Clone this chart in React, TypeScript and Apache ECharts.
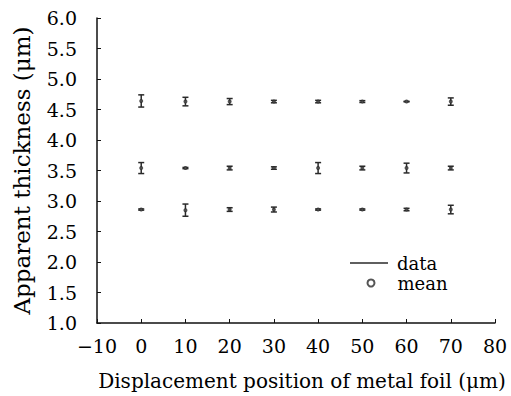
import React, { useEffect, useRef } from "react";
import * as echarts from "echarts";

const positions = [0, 10, 20, 30, 40, 50, 60, 70];
const upperMean = [4.64, 4.63, 4.63, 4.63, 4.63, 4.63, 4.63, 4.63];
const upperErr = [0.1, 0.07, 0.05, 0.02, 0.02, 0.015, 0.005, 0.06];
const middleMean = [3.54, 3.54, 3.54, 3.54, 3.54, 3.54, 3.54, 3.54];
const middleErr = [0.09, 0.01, 0.03, 0.02, 0.09, 0.03, 0.08, 0.03];
const lowerMean = [2.86, 2.85, 2.86, 2.86, 2.86, 2.86, 2.86, 2.86];
const lowerErr = [0.01, 0.1, 0.03, 0.04, 0.01, 0.01, 0.02, 0.07];

const FONT = "DejaVu Serif";
const INK = "#2a2a2a";
const TEXT = "#000";

export default function App() {
  const ref = useRef<HTMLDivElement>(null);
  useEffect(() => {
    if (!ref.current) return;
    const chart = echarts.init(ref.current, undefined, { renderer: "svg" });
    const rows = [
      [upperMean, upperErr],
      [middleMean, middleErr],
      [lowerMean, lowerErr],
    ];
    const barData: number[][] = [];
    const meanData: number[][] = [];
    rows.forEach(([m, e]) => {
      positions.forEach((x, i) => {
        barData.push([x, m[i], e[i]]);
        meanData.push([x, m[i]]);
      });
    });
    const fmtNeg = (v: number) => (v < 0 ? "\u2212" + Math.abs(v) : String(v));
    chart.setOption({
      animation: false,
      grid: { left: 97, right: 16, top: 18, bottom: 71 },
      legend: [
        {
          data: [{ name: "data", icon: "rect" }],
          left: 350,
          top: 254,
          padding: 0,
          itemWidth: 38,
          itemHeight: 1.5,
          textStyle: { fontFamily: FONT, fontSize: 18, color: TEXT, padding: [0, 0, 0, 4] },
          selectedMode: false,
        },
        {
          data: [{ name: "mean", icon: "emptyCircle" }],
          left: 366.5,
          top: 274,
          padding: 0,
          itemWidth: 7,
          itemHeight: 7,
          textStyle: { fontFamily: FONT, fontSize: 18, color: TEXT, padding: [0, 0, 0, 18] },
          selectedMode: false,
        },
      ],
      xAxis: {
        type: "value",
        min: -10,
        max: 80,
        interval: 10,
        name: "Displacement position of metal foil (\u03bcm)",
        nameLocation: "middle",
        nameGap: 48,
        nameTextStyle: { fontFamily: FONT, fontSize: 20, color: TEXT, padding: [0, 0, 0, 12] },
        axisLine: { onZero: false, lineStyle: { color: "#111", width: 1.5 } },
        axisTick: { inside: true, length: 4, lineStyle: { color: "#111" } },
        axisLabel: {
          fontFamily: FONT,
          fontSize: 19,
          color: TEXT,
          margin: 13,
          formatter: fmtNeg,
        },
        splitLine: { show: false },
      },
      yAxis: {
        type: "value",
        min: 1,
        max: 6,
        interval: 0.5,
        name: "Apparent thickness (\u03bcm)",
        nameLocation: "middle",
        nameGap: 64,
        nameTextStyle: { fontFamily: FONT, fontSize: 23, color: TEXT },
        axisLine: { show: true, onZero: false, lineStyle: { color: "#111", width: 1.5 } },
        axisTick: { inside: true, length: 4, lineStyle: { color: "#111" } },
        axisLabel: {
          fontFamily: FONT,
          fontSize: 19,
          color: TEXT,
          margin: 20,
          formatter: (v: number) => v.toFixed(1),
        },
        splitLine: { show: false },
      },
      series: [
        {
          name: "data",
          type: "custom",
          color: INK,
          encode: { x: 0, y: 1 },
          data: barData,
          renderItem: (params: any, api: any) => {
            const x = api.value(0);
            const y = api.value(1);
            const e = api.value(2);
            const top = api.coord([x, y + e]);
            const bot = api.coord([x, y - e]);
            const hw = 3;
            const style = { stroke: INK, lineWidth: 1.5 };
            return {
              type: "group",
              children: [
                { type: "line", shape: { x1: top[0], y1: top[1], x2: bot[0], y2: bot[1] }, style },
                { type: "line", shape: { x1: top[0] - hw, y1: top[1], x2: top[0] + hw, y2: top[1] }, style },
                { type: "line", shape: { x1: bot[0] - hw, y1: bot[1], x2: bot[0] + hw, y2: bot[1] }, style },
              ],
            };
          },
        },
        {
          name: "mean",
          type: "scatter",
          symbol: "emptyCircle",
          symbolSize: 2,
          itemStyle: { color: INK, borderColor: INK, borderWidth: 1 },
          data: meanData,
        },
      ],
    });
    return () => chart.dispose();
  }, []);
  return (
    <div
      ref={ref}
      style={{ position: "absolute", left: 0, top: 0, width: 511, height: 396 }}
    />
  );
}
